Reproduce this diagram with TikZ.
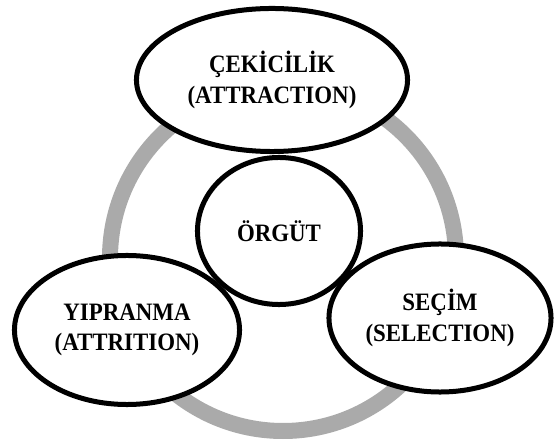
\documentclass[tikz,border=0pt]{standalone}
\usepackage{fontspec}
\setmainfont{Liberation Serif}[FakeStretch=0.915]
\usetikzlibrary{shapes.geometric}
\definecolor{ringgray}{RGB}{170,170,170}
\begin{document}
\begin{tikzpicture}[x=0.025cm, y=-0.025cm,
  stage/.style={draw, ellipse, fill=white, line width=0.125cm, inner sep=0pt, align=center,
    font=\bfseries\fontsize{17.8}{21.5}\selectfont}]
\useasboundingbox (0,0) rectangle (554,445);
\coordinate (mid) at (283,258);
\draw[ringgray, line width=0.4cm] (mid) circle[radius=173];
\node[stage, minimum width=4.075cm, minimum height=3.675cm] (orgut) at (279,231) {ÖRGÜT};
\node[stage, minimum width=6.775cm, minimum height=3.575cm] (cekicilik) at (272,80) {ÇEKİCİLİK\\(ATTRACTION)};
\node[stage, minimum width=5.625cm, minimum height=3.725cm] (yipranma) at (127,330) {YIPRANMA\\(ATTRITION)};
\node[stage, minimum width=5.55cm, minimum height=3.7cm] (secim) at (440,318) {SEÇİM\\(SELECTION)};
\end{tikzpicture}
\end{document}
